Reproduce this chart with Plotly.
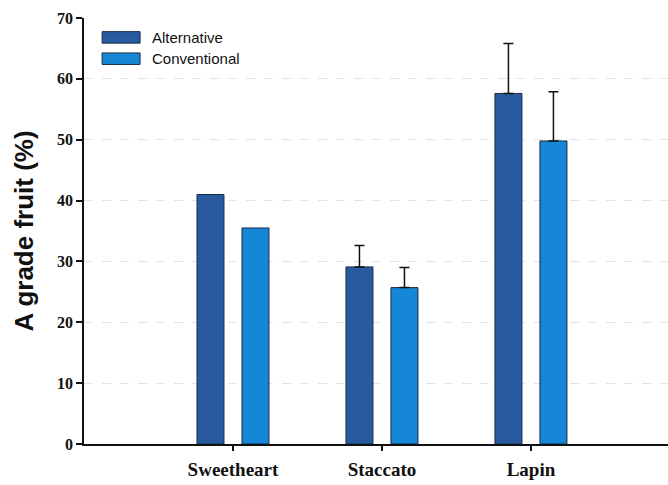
import plotly.graph_objects as go

# Cherry cultivars and A-grade fruit share (%) by production system
cultivars = ["Sweetheart", "Staccato", "Lapin"]
alternative = [41.0, 29.1, 57.6]
conventional = [35.5, 25.7, 49.8]
alternative_err = [None, 3.5, 8.2]
conventional_err = [None, 3.3, 8.1]
y_ticks = [0, 10, 20, 30, 40, 50, 60, 70]

colors = {"Alternative": "#285a9f", "Conventional": "#1687d6"}


def err_values(errs, fill):
    # missing errors become non-numeric so no bar or cap is drawn there
    return [fill if e is None else e for e in errs]


fig = go.Figure()
for name, vals, errs in [("Alternative", alternative, alternative_err),
                         ("Conventional", conventional, conventional_err)]:
    fig.add_trace(go.Bar(
        name=name,
        x=list(range(len(cultivars))),
        y=vals,
        marker=dict(color=colors[name], line=dict(color="#1b2b44", width=1)),
        error_y=dict(type="data", symmetric=False,
                     array=err_values(errs, "NaN"),
                     arrayminus=[("NaN" if e is None else 0) for e in errs],
                     color="#111111", thickness=1.5, width=5, visible=True),
        showlegend=False,
    ))

# Legend drawn as boxed swatches with labels
legend_items = [("Alternative", 0), ("Conventional", 1)]
for label, i in legend_items:
    y0 = 0.968 - i * 0.05
    fig.add_shape(type="rect", xref="paper", yref="paper",
                  x0=0.031, x1=0.096, y0=y0 - 0.027, y1=y0,
                  fillcolor=colors[label], line=dict(color="#1b2b44", width=1))
    fig.add_annotation(xref="paper", yref="paper", x=0.113, y=y0 - 0.0135,
                       text=label, showarrow=False, xanchor="left",
                       yanchor="middle",
                       font=dict(family="Arial, Liberation Sans", size=15,
                                 color="#111111"))

fig.update_layout(
    width=668, height=485,
    margin=dict(l=84, r=0, t=18, b=41),
    paper_bgcolor="white", plot_bgcolor="white",
    barmode="group", bargap=0.396, bargroupgap=0.4,
    xaxis=dict(
        range=[-1, 2.92],
        tickmode="array", tickvals=list(range(len(cultivars))),
        ticktext=cultivars,
        showline=True, linecolor="#111111", linewidth=1.5,
        ticks="outside", ticklen=5, tickwidth=1.5, tickcolor="#111111",
        showgrid=False, zeroline=False,
        tickfont=dict(family="Times New Roman, Liberation Serif", size=19,
                      color="#111111", weight="bold"),
        ticklabelstandoff=2,
    ),
    yaxis=dict(
        range=[0, 70],
        tickmode="array", tickvals=y_ticks,
        showline=True, linecolor="#111111", linewidth=1.5,
        ticks="outside", ticklen=6, tickwidth=1.5, tickcolor="#111111",
        showgrid=True, gridcolor="#e3e3e3", griddash="dash", gridwidth=1,
        zeroline=False,
        tickfont=dict(family="Times New Roman, Liberation Serif", size=16,
                      color="#111111", weight="bold"),
        title=dict(text="A grade fruit (%)", standoff=16,
                   font=dict(family="Arial, Liberation Sans", size=26,
                             color="#111111", weight="bold")),
    ),
)

fig.write_html("out.html")
